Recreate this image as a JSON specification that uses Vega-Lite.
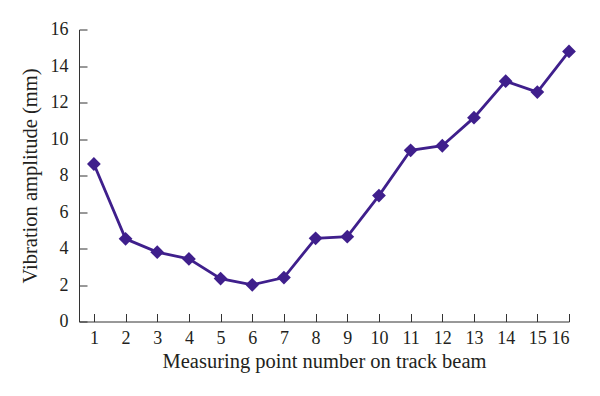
{
  "$schema": "https://vega.github.io/schema/vega-lite/v6.json",
  "width": 490,
  "height": 292,
  "autosize": {"type": "none"},
  "padding": {"left": 79, "top": 29.5, "right": 31, "bottom": 74},
  "background": "white",
  "config": {
    "view": {"stroke": null},
    "axis": {
      "labelFont": "Liberation Serif",
      "titleFont": "Liberation Serif",
      "labelFontSize": 18,
      "titleFontSize": 20.5,
      "labelColor": "#231f20",
      "titleColor": "#231f20",
      "titleFontWeight": "normal",
      "domainColor": "#333333",
      "tickColor": "#333333",
      "domainWidth": 1,
      "tickWidth": 1,
      "grid": false
    }
  },
  "data": {
    "values": [
      {"point": 1, "amp": 8.63},
      {"point": 2, "amp": 4.53},
      {"point": 3, "amp": 3.8},
      {"point": 4, "amp": 3.43},
      {"point": 5, "amp": 2.35},
      {"point": 6, "amp": 2.01},
      {"point": 7, "amp": 2.41},
      {"point": 8, "amp": 4.56},
      {"point": 9, "amp": 4.65},
      {"point": 10, "amp": 6.9},
      {"point": 11, "amp": 9.38},
      {"point": 12, "amp": 9.63},
      {"point": 13, "amp": 11.17},
      {"point": 14, "amp": 13.17},
      {"point": 15, "amp": 12.57},
      {"point": 16, "amp": 14.8}
    ]
  },
  "mark": {
    "type": "line",
    "color": "#3f1f8c",
    "strokeWidth": 2.8,
    "point": {"shape": "diamond", "size": 190, "filled": true, "color": "#3f1f8c", "opacity": 1}
  },
  "encoding": {
    "x": {
      "field": "point",
      "type": "quantitative",
      "scale": {"domain": [0.53, 16], "nice": false, "zero": false},
      "axis": {
        "title": "Measuring point number on track beam",
        "values": [1,2,3,4,5,6,7,8,9,10,11,12,13,14,15,16],
        "format": "d",
        "tickSize": -8,
        "labelPadding": 16,
        "titlePadding": 4
      }
    },
    "y": {
      "field": "amp",
      "type": "quantitative",
      "scale": {"domain": [0, 16], "nice": false},
      "axis": {
        "title": "Vibration amplitude (mm)",
        "values": [0,2,4,6,8,10,12,14,16],
        "tickSize": -8,
        "labelPadding": 19,
        "titlePadding": 10
      }
    }
  }
}
